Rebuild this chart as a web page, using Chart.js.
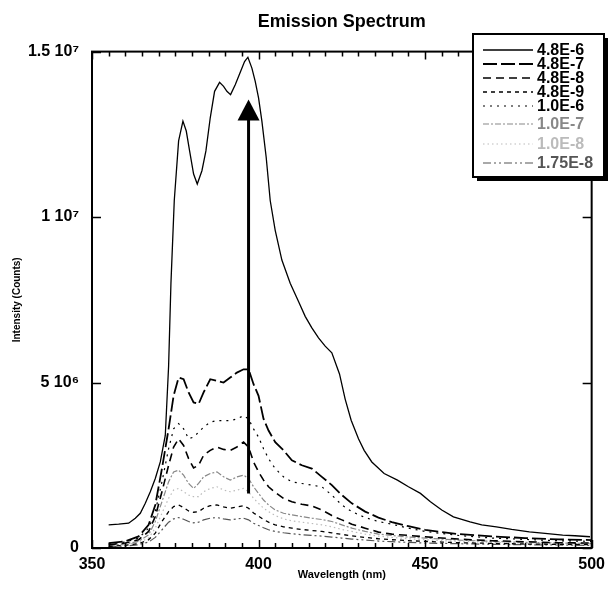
<!DOCTYPE html>
<html>
<head>
<meta charset="utf-8">
<script src="https://cdn.jsdelivr.net/npm/chart.js@4.4.1/dist/chart.umd.min.js"></script>
<style>
  html, body { margin: 0; padding: 0; background: #fff; }
</style>
</head>
<body>
<canvas id="chart" width="612" height="593"></canvas>
<script>
// intensities are in units of 10^6 counts
const mainWavelength = [355, 358, 361, 363, 364.5, 366, 367.5, 369, 370.5, 372, 373, 373.7, 374.7, 376, 377.3, 378.3, 379.3, 380.5, 381.6, 383, 384.2, 385.5, 386.8, 388.3, 389.5, 390.5, 391.6, 393, 394.6, 395.8, 396.8, 398, 399, 400, 401, 402.3, 403.5, 405, 407, 409.5, 412, 414, 416, 418, 420, 422, 424.3, 426, 427.8, 430, 431.7, 434, 437.7, 441.7, 445, 448.6, 451.6, 455, 458.5, 463.5, 467, 471.4, 476, 481.3, 486, 491.3, 495, 499.5];
const conc48e6 = [0.7, 0.72, 0.75, 0.9, 1.05, 1.35, 1.7, 2.1, 2.6, 3.4, 5.5, 8.0, 10.5, 12.3, 12.9, 12.6, 12.0, 11.3, 11.0, 11.4, 12.0, 13.0, 13.8, 14.07, 13.95, 13.8, 13.7, 14.0, 14.4, 14.7, 14.83, 14.5, 14.1, 13.6, 12.9, 11.8, 10.5, 9.6, 8.7, 8.0, 7.45, 7.0, 6.65, 6.35, 6.1, 5.9, 5.26, 4.5, 3.86, 3.3, 2.95, 2.6, 2.25, 2.05, 1.85, 1.65, 1.4, 1.15, 0.94, 0.79, 0.7, 0.64, 0.56, 0.49, 0.44, 0.39, 0.37, 0.34];

const wavelength = [355, 360, 364, 367, 369, 371, 373, 374.5, 376, 377.5, 379, 380.5, 382, 383.5, 385.5, 387.5, 389.5, 391.5, 393.5, 395.5, 397, 398.5, 400, 401.5, 403, 405, 407.5, 410, 413, 416, 419, 422, 425, 428, 432, 436, 440, 445, 450, 455, 460, 470, 480, 490, 500];
const conc48e7 = [0.15, 0.2, 0.35, 0.7, 1.3, 2.4, 3.6, 4.6, 5.15, 5.1, 4.7, 4.4, 4.35, 4.7, 5.1, 5.05, 5.0, 5.15, 5.3, 5.4, 5.4, 4.95, 4.6, 3.9, 3.55, 3.2, 2.95, 2.65, 2.5, 2.4, 2.15, 1.9, 1.6, 1.35, 1.1, 0.92, 0.78, 0.66, 0.55, 0.48, 0.42, 0.35, 0.3, 0.26, 0.24];
const conc48e8 = [0.1, 0.15, 0.25, 0.5, 0.95, 1.7, 2.5, 3.05, 3.3, 3.1, 2.7, 2.42, 2.5, 2.8, 2.95, 3.05, 2.98, 2.95, 3.05, 3.2, 3.05, 2.6, 2.3, 2.05, 1.85, 1.68, 1.5, 1.4, 1.32, 1.27, 1.15, 0.98, 0.85, 0.72, 0.6, 0.48, 0.42, 0.38, 0.34, 0.3, 0.27, 0.22, 0.19, 0.16, 0.15];
const conc48e9 = [0.05, 0.08, 0.13, 0.25, 0.45, 0.8, 1.1, 1.25, 1.3, 1.22, 1.12, 1.08, 1.1, 1.2, 1.28, 1.3, 1.24, 1.2, 1.24, 1.28, 1.2, 1.06, 0.96, 0.86, 0.78, 0.7, 0.64, 0.6, 0.56, 0.53, 0.5, 0.46, 0.41, 0.37, 0.32, 0.28, 0.25, 0.22, 0.2, 0.18, 0.16, 0.14, 0.12, 0.11, 0.1];
const conc10e6 = [0.12, 0.18, 0.3, 0.6, 1.1, 2.0, 3.0, 3.6, 3.76, 3.6, 3.3, 3.35, 3.5, 3.65, 3.8, 3.85, 3.85, 3.85, 3.9, 4.0, 3.9, 3.6, 3.35, 3.0, 2.7, 2.4, 2.15, 2.0, 1.95, 1.9, 1.85, 1.6, 1.3, 1.1, 0.92, 0.8, 0.72, 0.6, 0.5, 0.44, 0.38, 0.3, 0.26, 0.22, 0.2];
const conc10e7 = [0.08, 0.12, 0.2, 0.4, 0.8, 1.4, 2.0, 2.3, 2.35, 2.2, 1.95, 1.8, 1.95, 2.15, 2.25, 2.3, 2.15, 2.05, 2.15, 2.2, 2.1, 1.85, 1.65, 1.45, 1.3, 1.15, 1.05, 1.0, 0.95, 0.9, 0.86, 0.8, 0.7, 0.6, 0.5, 0.42, 0.38, 0.33, 0.3, 0.27, 0.24, 0.2, 0.17, 0.15, 0.14];
const conc10e8 = [0.06, 0.1, 0.16, 0.3, 0.6, 1.05, 1.5, 1.75, 1.8, 1.7, 1.6, 1.55, 1.55, 1.7, 1.8, 1.85, 1.75, 1.7, 1.75, 1.8, 1.7, 1.5, 1.35, 1.2, 1.1, 0.98, 0.88, 0.82, 0.78, 0.74, 0.7, 0.64, 0.56, 0.5, 0.42, 0.36, 0.32, 0.28, 0.25, 0.22, 0.2, 0.17, 0.15, 0.13, 0.12];
const conc175e8 = [0.04, 0.06, 0.1, 0.18, 0.32, 0.55, 0.78, 0.88, 0.92, 0.87, 0.8, 0.76, 0.78, 0.85, 0.9, 0.92, 0.88, 0.85, 0.88, 0.9, 0.85, 0.75, 0.68, 0.61, 0.55, 0.5, 0.46, 0.43, 0.4, 0.38, 0.36, 0.33, 0.3, 0.27, 0.24, 0.21, 0.19, 0.17, 0.15, 0.14, 0.13, 0.11, 0.1, 0.09, 0.08];

const seriesNames = ['4.8E-6', '4.8E-7', '4.8E-8', '4.8E-9', '1.0E-6', '1.0E-7', '1.0E-8', '1.75E-8'];
const xTickValues = [350, 400, 450, 500];
const xTickLabels = ['350', '400', '450', '500'];
const yTickValues = [0, 5, 10, 15];
const yTickLabels = ['0', '5 10\u2076', '1 10\u2077', '1.5 10\u2077'];

// arrow marking the increase with concentration
const arrowWavelength = 397;
const arrowFrom = 1.65;
const arrowTo = 13.55;

const FONT = "'Liberation Sans', Arial, sans-serif";

function pts(xs, ys) {
  return xs.map((x, i) => ({ x: x, y: ys[i] }));
}

function line(label, data, color, width, dash) {
  return {
    label: label,
    data: data,
    borderColor: color,
    borderWidth: width,
    borderDash: dash,
    pointRadius: 0,
    tension: 0,
    fill: false
  };
}

const datasets = [
  line(seriesNames[0], pts(mainWavelength, conc48e6), '#000', 1.3, []),
  line(seriesNames[1], pts(wavelength, conc48e7), '#000', 1.8, [14, 4]),
  line(seriesNames[2], pts(wavelength, conc48e8), '#000', 1.6, [8, 5]),
  line(seriesNames[3], pts(wavelength, conc48e9), '#000', 1.3, [4, 4]),
  line(seriesNames[4], pts(wavelength, conc10e6), '#000', 1.2, [2, 5]),
  line(seriesNames[5], pts(wavelength, conc10e7), '#888', 1.2, [6, 2, 2, 2]),
  line(seriesNames[6], pts(wavelength, conc10e8), '#bbb', 1.2, [1.5, 3]),
  line(seriesNames[7], pts(wavelength, conc175e8), '#555', 1.2, [8, 3, 2, 3, 2, 3])
];

// box, inward ticks, arrow, legend
const decorations = {
  id: 'decorations',
  afterDatasetsDraw(chart) {
    const { ctx, chartArea: a, scales: { x, y } } = chart;
    ctx.save();
    ctx.strokeStyle = '#000';
    ctx.lineWidth = 2;
    ctx.setLineDash([]);
    ctx.strokeRect(a.left, a.top, a.right - a.left, a.bottom - a.top);

    ctx.lineWidth = 1.5;
    ctx.beginPath();
    x.ticks.forEach(t => {
      const px = Math.round(x.getPixelForValue(t.value)) + 0.5;
      const len = xTickValues.includes(t.value) ? 8 : 5;
      ctx.moveTo(px, a.bottom); ctx.lineTo(px, a.bottom - len);
      ctx.moveTo(px, a.top); ctx.lineTo(px, a.top + len);
    });
    y.ticks.forEach(t => {
      const py = Math.round(y.getPixelForValue(t.value)) + 0.5;
      ctx.moveTo(a.left, py); ctx.lineTo(a.left + 9, py);
      ctx.moveTo(a.right, py); ctx.lineTo(a.right - 9, py);
    });
    ctx.stroke();

    // arrow
    const ax = x.getPixelForValue(arrowWavelength);
    const y0 = y.getPixelForValue(arrowFrom);
    const y1 = y.getPixelForValue(arrowTo);
    ctx.lineWidth = 3;
    ctx.beginPath();
    ctx.moveTo(ax, y0);
    ctx.lineTo(ax, y1 + 18);
    ctx.stroke();
    ctx.fillStyle = '#000';
    ctx.beginPath();
    ctx.moveTo(ax, y1);
    ctx.lineTo(ax - 11, y1 + 21);
    ctx.lineTo(ax + 11, y1 + 21);
    ctx.closePath();
    ctx.fill();
    ctx.restore();
  },
  afterDraw(chart) {
    const ctx = chart.ctx;
    const bx = 473, by = 34, bw = 131, bh = 143;
    const rows = [50, 64, 78, 92, 106, 124, 144, 163];
    ctx.save();
    ctx.fillStyle = '#000';
    ctx.fillRect(bx + 4, by + 4, bw, bh);
    ctx.fillStyle = '#fff';
    ctx.fillRect(bx, by, bw, bh);
    ctx.strokeStyle = '#000';
    ctx.lineWidth = 2;
    ctx.strokeRect(bx, by, bw, bh);
    chart.data.datasets.forEach((ds, i) => {
      const ry = rows[i];
      ctx.strokeStyle = ds.borderColor;
      ctx.lineWidth = ds.borderWidth;
      ctx.setLineDash(ds.borderDash);
      ctx.beginPath();
      ctx.moveTo(483, ry);
      ctx.lineTo(533, ry);
      ctx.stroke();
      ctx.setLineDash([]);
      ctx.fillStyle = ds.borderColor;
      ctx.font = 'bold 16px ' + FONT;
      ctx.textAlign = 'left';
      ctx.textBaseline = 'middle';
      ctx.fillText(ds.label, 537, ry + 1);
    });
    ctx.restore();
  }
};

new Chart(document.getElementById('chart'), {
  type: 'line',
  data: { datasets: datasets },
  plugins: [decorations],
  options: {
    responsive: false,
    animation: false,
    devicePixelRatio: 1,
    layout: { padding: { top: 0, right: 16, bottom: 0, left: 0 } },
    plugins: {
      legend: { display: false },
      tooltip: { enabled: false },
      title: {
        display: true,
        fullSize: false,
        text: 'Emission Spectrum',
        color: '#000',
        font: { family: FONT, size: 18, weight: 'bold' },
        padding: { top: 11, bottom: 19 }
      }
    },
    scales: {
      x: {
        type: 'linear',
        min: 350,
        max: 500,
        grid: { display: false, drawTicks: false },
        border: { display: false },
        ticks: {
          stepSize: 5,
          autoSkip: false,
          maxRotation: 0,
          padding: 7,
          color: '#000',
          font: { family: FONT, size: 16, weight: 'bold' },
          callback: v => {
            const i = xTickValues.indexOf(v);
            return i >= 0 ? xTickLabels[i] : '';
          }
        },
        title: {
          display: true,
          text: 'Wavelength (nm)',
          color: '#000',
          font: { family: FONT, size: 11, weight: 'bold' },
          padding: { top: 0, bottom: 11 }
        },
        afterFit: s => { s.height = 45; }
      },
      y: {
        type: 'linear',
        min: 0,
        max: 15,
        grid: { display: false, drawTicks: false },
        border: { display: false },
        ticks: {
          stepSize: 5,
          padding: 13,
          color: '#000',
          font: { family: FONT, size: 16, weight: 'bold' },
          callback: v => {
            const i = yTickValues.indexOf(v);
            return i >= 0 ? yTickLabels[i] : '';
          }
        },
        title: {
          display: true,
          text: 'Intensity (Counts)',
          color: '#000',
          font: { family: FONT, size: 10, weight: 'bold' },
          padding: { top: 11, bottom: 0 }
        },
        afterFit: s => { s.width = 92; }
      }
    }
  }
});
</script>
</body>
</html>
